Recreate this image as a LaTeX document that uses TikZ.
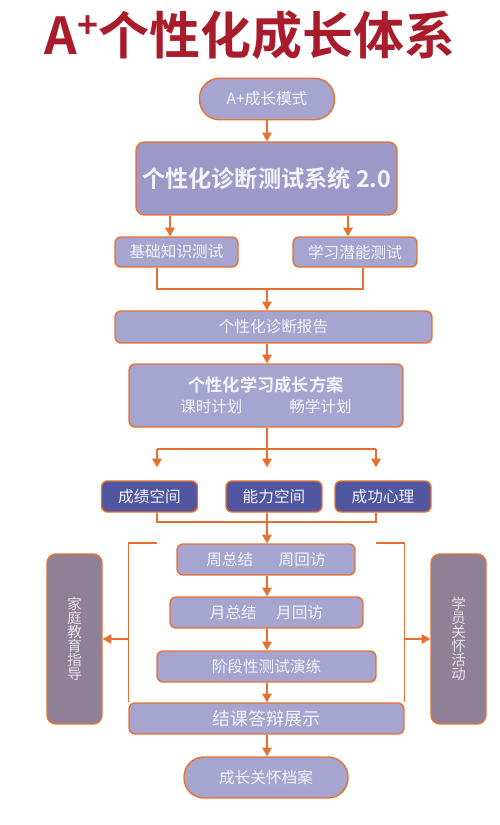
\documentclass[tikz,border=0pt]{standalone}
\usepackage{fontspec}
\setmainfont{Noto Sans CJK SC}[BoldFont={Noto Sans CJK SC Bold}]
\usepackage{tikz}
\usetikzlibrary{arrows.meta}

\definecolor{lineorange}{HTML}{E8702F}
\definecolor{boxlav}{HTML}{A6A5CF}
\definecolor{syslav}{HTML}{9C98C8}
\definecolor{spaceblue}{HTML}{5057A0}
\definecolor{sidemauve}{HTML}{8F8098}
\definecolor{titlered}{HTML}{A81C2B}
\definecolor{boxtext}{HTML}{F4F2FA}

\begin{document}
\begin{tikzpicture}[
	x=0.02cm, y=-0.02cm,
	>={Triangle[length=5pt,width=5.5pt]},
	box/.style={draw=lineorange, line width=0.8pt, fill=boxlav, rounded corners=0.12cm, align=center, text=boxtext, inner sep=0pt, minimum height=0.62cm, font=\fontsize{8.9}{10}\selectfont},
	pill/.style={box, rounded corners=0.4cm, minimum height=0.83cm},
	spacebox/.style={box, fill=spaceblue, minimum width=1.92cm},
	sidebox/.style={box, fill=sidemauve, rounded corners=0.18cm, minimum width=1.1cm, minimum height=3.4cm, text=boxtext!85!sidemauve, font=\fontsize{8.2}{8}\selectfont},
	line/.style={draw=lineorange, line width=0.8pt},
	flow/.style={line, ->, lineorange}
]
\useasboundingbox (0,0) rectangle (500,825);

% title
\node[text=titlered, font=\fontsize{29}{32}\selectfont\bfseries] (title) at (250,35) {A\textsuperscript{+}个性化成长体系};

% diagnosis
\node[pill, minimum width=2.7cm] (start) at (267,99) {A+成长模式};
\node[box, fill=syslav, rounded corners=0.17cm, minimum width=5.22cm, minimum height=1.46cm, font=\fontsize{13.2}{15}\selectfont\bfseries] (sys) at (266.5,178.5) {个性化诊断测试系统 2.0};
\node[box, minimum width=2.46cm, minimum height=0.6cm] (basic) at (176.5,252) {基础知识测试};
\node[box, minimum width=2.48cm, minimum height=0.6cm] (potential) at (355,252) {学习潜能测试};
\node[box, minimum width=6.34cm, minimum height=0.64cm] (report) at (273.5,327) {个性化诊断报告};
\node[box, minimum width=5.48cm, minimum height=1.26cm, font=\fontsize{8.8}{12}\selectfont] (plan) at (266,395.5) {{\fontsize{9.8}{12}\selectfont\bfseries 个性化学习成长方案}\\课时计划\hspace{27pt}畅学计划};

% three spaces
\node[spacebox] (score) at (149.5,496.5) {成绩空间};
\node[spacebox] (ability) at (274,496.5) {能力空间};
\node[spacebox] (mind) at (383,496.5) {成功心理};

% follow-up
\node[box, minimum width=3.56cm] (week) at (266,559.5) {周总结\hspace{14.5pt}周回访};
\node[box, minimum width=3.86cm] (month) at (266.5,612.5) {月总结\hspace{11pt}月回访};
\node[box, minimum width=4.38cm] (stage) at (266.5,666.5) {阶段性测试演练};
\node[box, minimum width=5.5cm, font=\fontsize{10.2}{12}\selectfont] (defense) at (266.5,718.5) {结课答辩展示};
\node[pill, minimum width=3.28cm, minimum height=0.82cm] (archive) at (266,777.5) {成长关怀档案};

\node[sidebox] (family) at (74.5,639) {家\\庭\\教\\育\\指\\导};
\node[sidebox] (care) at (458.5,639) {学\\员\\关\\怀\\活\\动};

\coordinate (j1) at (267,289);
\coordinate (j2) at (267,449);
\coordinate (b1) at (157,449);
\coordinate (b3) at (376,449);
\coordinate (j3) at (267,522);
\coordinate (bl) at (129,639);
\coordinate (br) at (404,639);

\draw[flow] (start.south) -- (start.south |- sys.north);
\draw[flow] ([xshift=-0.13cm]basic.north |- sys.south) -- ([xshift=-0.13cm]basic.north);
\draw[flow] ([xshift=-0.14cm]potential.north |- sys.south) -- ([xshift=-0.14cm]potential.north);
\draw[line] ([xshift=-0.39cm]basic.south) |- (j1) -| ([xshift=0.16cm]potential.south);
\draw[flow] (j1) -- (j1 |- report.north);
\draw[flow] (j1 |- report.south) -- (j1 |- plan.north);

\draw[line] (plan.south -| j2) -- (j2);
\draw[line] (b1) -- (b3);
\draw[flow, shorten >=0.26cm] (b1) -- (b1 |- score.north);
\draw[flow, shorten >=0.26cm] (j2) -- (j2 |- ability.north);
\draw[flow, shorten >=0.26cm] (b3) -- (b3 |- mind.north);

\draw[line] ([xshift=0.15cm]score.south) |- (j3) -| ([xshift=-0.14cm]mind.south);
\draw[line] (ability.south -| j3) -- (j3);
\draw[flow] (j3) -- (j3 |- week.north);

% bracket round the follow-up
\draw[line] (157,543) -| (defense.north west);
\draw[line] (376,543) -| (defense.north east);
\draw[flow] (bl) -- (family.east |- bl);
\draw[flow] (br) -- (care.west |- br);

\draw[flow] (week.south -| j3) -- (month.north -| j3);
\draw[flow] (month.south -| j3) -- (stage.north -| j3);
\draw[flow] (stage.south -| j3) -- (defense.north -| j3);
\draw[flow] (defense.south -| j3) -- (archive.north -| j3);

\end{tikzpicture}
\end{document}
